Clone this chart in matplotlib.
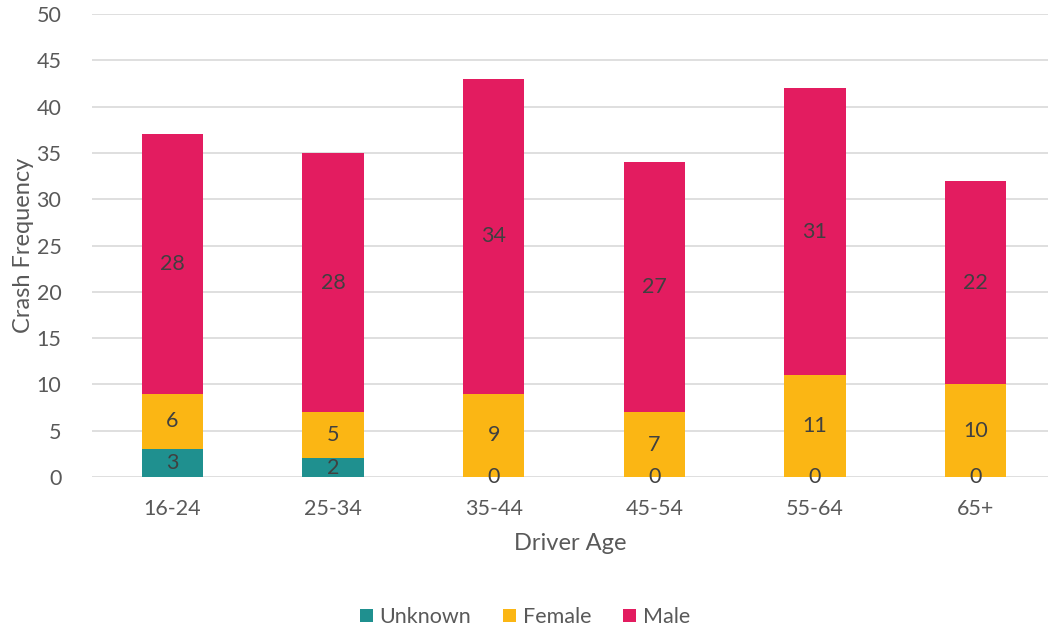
import matplotlib.pyplot as plt
import numpy as np

plt.rcParams['font.family'] = ['Lato', 'DejaVu Sans']

ages = ['16-24', '25-34', '35-44', '45-54', '55-64', '65+']
unknown = [3, 2, 0, 0, 0, 0]
female = [6, 5, 9, 7, 11, 10]
male = [28, 28, 34, 27, 31, 22]

fig = plt.figure(figsize=(10.5, 6.31), dpi=100)
ax = fig.add_axes([92/1050, 1 - 477/631, (1048 - 92)/1050, (477 - 14)/631])

x = np.arange(len(ages))
w = 0.38
c_unk, c_fem, c_male = '#1F908F', '#FBB614', '#E31C60'

b1 = ax.bar(x, unknown, w, color=c_unk, label='Unknown')
b2 = ax.bar(x, female, w, bottom=unknown, color=c_fem, label='Female')
bottom2 = [u + f for u, f in zip(unknown, female)]
b3 = ax.bar(x, male, w, bottom=bottom2, color=c_male, label='Male')

for bars in (b1, b2, b3):
    ax.bar_label(bars, label_type='center', fontsize=15.5, color='#404040')

ax.set_xlim(-0.5, 5.45)
ax.set_ylim(0, 50)
ax.set_yticks(range(0, 51, 5))
ax.set_xticks(x)
ax.set_xticklabels(ages)
ax.tick_params(axis='both', length=0, labelsize=15.5, labelcolor='#595959')
ax.tick_params(axis='y', pad=22)
ax.tick_params(axis='x', pad=16)
ax.grid(axis='y', color='#D9D9D9', linewidth=1.2)
ax.set_axisbelow(True)
for s in ax.spines.values():
    s.set_visible(False)

ax.set_ylabel('Crash Frequency', fontsize=17, color='#595959', labelpad=2)
ax.set_xlabel('Driver Age', fontsize=17, color='#595959', labelpad=10)

fig.legend(loc='center', bbox_to_anchor=(0.5, 1 - 617/631), ncol=3, frameon=False,
           fontsize=15.5, labelcolor='#595959', handlelength=0.6, handleheight=0.6,
           handletextpad=0.3, columnspacing=1.5)

fig.savefig('out.png', dpi=100)
